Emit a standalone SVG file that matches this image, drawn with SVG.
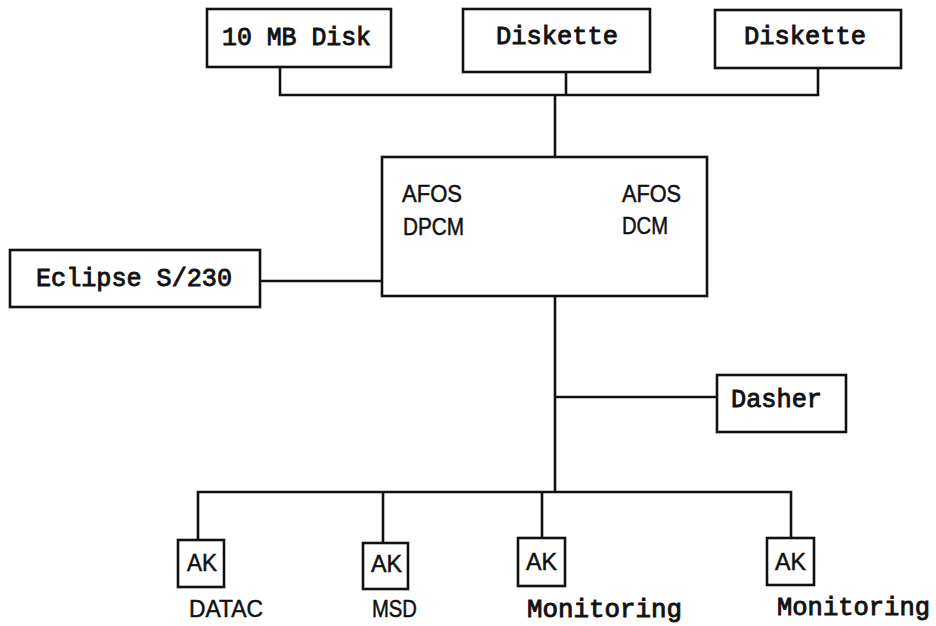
<svg xmlns="http://www.w3.org/2000/svg" width="936" height="626" viewBox="0 0 936 626">
<style>
  .box { fill: #fff; stroke: #111; stroke-width: 2.6; }
  .wire { fill: none; stroke: #111; stroke-width: 2.6; }
  .mono { font-family: "Liberation Mono", "DejaVu Sans Mono", monospace; font-size: 25px; fill: #111; stroke: #111; stroke-width: 0.9; }
  .sans { font-family: "Liberation Sans", "DejaVu Sans", sans-serif; font-size: 24px; fill: #111; stroke: #111; stroke-width: 0.5; }
</style>
<rect width="936" height="626" fill="#fff"/>
<g id="connectors">
  <path class="wire" d="M280 67 V95 H818 V68"/>
  <path class="wire" d="M566 72 V95"/>
  <path class="wire" d="M555 95 V492"/>
  <path class="wire" d="M260 281 H382"/>
  <path class="wire" d="M555 397 H717"/>
  <path class="wire" d="M198 540 V492 H791 V538"/>
  <path class="wire" d="M383 492 V543"/>
  <path class="wire" d="M542 492 V538"/>
</g>
<g id="disk10">
  <rect class="box" x="207" y="9" width="184" height="58"/>
  <text class="mono" x="222" y="45" textLength="149" lengthAdjust="spacingAndGlyphs">10 MB Disk</text>
</g>
<g id="diskette1">
  <rect class="box" x="463" y="9" width="187" height="63"/>
  <text class="mono" x="496" y="44" textLength="122" lengthAdjust="spacingAndGlyphs">Diskette</text>
</g>
<g id="diskette2">
  <rect class="box" x="715" y="10" width="186" height="58"/>
  <text class="mono" x="744" y="44" textLength="122" lengthAdjust="spacingAndGlyphs">Diskette</text>
</g>
<g id="afos">
  <rect class="box" x="382" y="157" width="325" height="139"/>
  <text class="sans" x="402" y="202" textLength="60" lengthAdjust="spacingAndGlyphs">AFOS</text>
  <text class="sans" x="403" y="235" textLength="61" lengthAdjust="spacingAndGlyphs">DPCM</text>
  <text class="sans" x="622" y="202" textLength="59" lengthAdjust="spacingAndGlyphs">AFOS</text>
  <text class="sans" x="622" y="234" textLength="46" lengthAdjust="spacingAndGlyphs">DCM</text>
</g>
<g id="eclipse">
  <rect class="box" x="10" y="250" width="250" height="57"/>
  <text class="mono" x="36" y="286" textLength="196" lengthAdjust="spacingAndGlyphs">Eclipse S/230</text>
</g>
<g id="dasher">
  <rect class="box" x="717" y="375" width="129" height="57"/>
  <text class="mono" x="731" y="407" textLength="91" lengthAdjust="spacingAndGlyphs">Dasher</text>
</g>
<g id="ak-datac">
  <rect class="box" x="178" y="540" width="46" height="47"/>
  <text class="sans" x="187" y="571" textLength="30" lengthAdjust="spacingAndGlyphs">AK</text>
  <text class="sans" x="189" y="617" textLength="74" lengthAdjust="spacingAndGlyphs">DATAC</text>
</g>
<g id="ak-msd">
  <rect class="box" x="363" y="543" width="45" height="46"/>
  <text class="sans" x="371" y="572" textLength="31" lengthAdjust="spacingAndGlyphs">AK</text>
  <text class="sans" x="372" y="617" textLength="45" lengthAdjust="spacingAndGlyphs">MSD</text>
</g>
<g id="ak-mon1">
  <rect class="box" x="518" y="538" width="47" height="48"/>
  <text class="sans" x="526" y="570" textLength="31" lengthAdjust="spacingAndGlyphs">AK</text>
  <text class="mono" x="527" y="617" textLength="155" lengthAdjust="spacingAndGlyphs">Monitoring</text>
</g>
<g id="ak-mon2">
  <rect class="box" x="767" y="538" width="47" height="47"/>
  <text class="sans" x="775" y="570" textLength="31" lengthAdjust="spacingAndGlyphs">AK</text>
  <text class="mono" x="777" y="615" textLength="153" lengthAdjust="spacingAndGlyphs">Monitoring</text>
</g>
</svg>
